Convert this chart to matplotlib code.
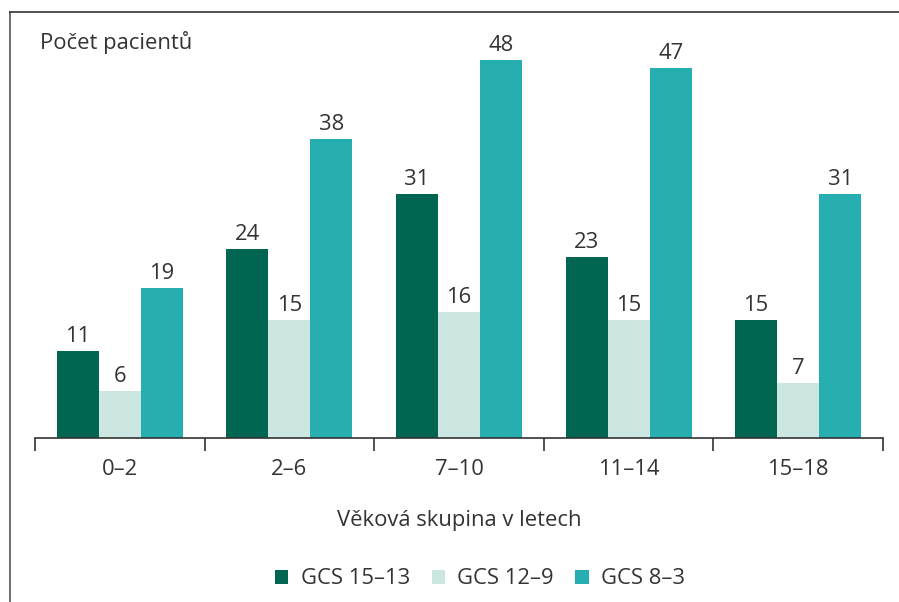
import matplotlib.pyplot as plt
import numpy as np

# data
age_groups = ['0–2', '2–6', '7–10', '11–14', '15–18']
gcs_15_13 = [11, 24, 31, 23, 15]
gcs_12_9 = [6, 15, 16, 15, 7]
gcs_8_3 = [19, 38, 48, 47, 31]
series_names = ['GCS 15–13', 'GCS 12–9', 'GCS 8–3']
colors = ['#006652', '#cce7e1', '#27aeb0']

plt.rcParams['font.family'] = ['Open Sans', 'DejaVu Sans']
text_color = '#333333'
fs = 15.8

fig = plt.figure(figsize=(8.99, 6.02), dpi=100)
ax = fig.add_axes([35 / 899, 1 - 438 / 602, 848 / 899, 409.5 / 602])

x = np.arange(len(age_groups))
width = 0.248
all_series = [gcs_15_13, gcs_12_9, gcs_8_3]
for i, (vals, name, col) in enumerate(zip(all_series, series_names, colors)):
    bars = ax.bar(x + (i - 1) * width, vals, width, color=col, label=name, linewidth=0)
    for b, v in zip(bars, vals):
        ax.annotate(str(v), (b.get_x() + b.get_width() / 2, v), xytext=(0, 3),
                    textcoords='offset points', ha='center', va='bottom',
                    fontsize=fs, color=text_color)

ax.set_xlim(-0.5, len(age_groups) - 0.5)
ax.set_ylim(0, 52)

# only the bottom axis is shown
for side in ['left', 'right', 'top']:
    ax.spines[side].set_visible(False)
ax.spines['bottom'].set_color('#333333')
ax.spines['bottom'].set_linewidth(1.2)
ax.set_yticks([])

# ticks sit between the groups, labels in the middle
ax.set_xticks(np.arange(-0.5, len(age_groups)), minor=False)
ax.set_xticklabels([])
ax.tick_params(axis='x', which='major', direction='out', length=9, width=1.2, color='#333333')
ax.set_xticks(x, minor=True)
ax.set_xticklabels(age_groups, minor=True)
ax.tick_params(axis='x', which='minor', length=0, pad=15, labelsize=fs, labelcolor=text_color)

ax.set_xlabel('Věková skupina v letech', fontsize=fs, color=text_color, labelpad=22)

fig.text(40 / 899, 1 - 42 / 602, 'Počet pacientů', fontsize=fs, color=text_color,
         ha='left', va='center')

# frame line on the left and top of the figure
fig.add_artist(plt.Line2D([10 / 899, 10 / 899], [0, 1 - 12 / 602], transform=fig.transFigure,
                          color='#555555', linewidth=1.2))
fig.add_artist(plt.Line2D([10 / 899, 1], [1 - 12 / 602, 1 - 12 / 602], transform=fig.transFigure,
                          color='#333333', linewidth=1.2))

fig.legend(loc='center', bbox_to_anchor=(480 / 899, 1 - 579 / 602), ncol=3, frameon=False,
           fontsize=fs, handlelength=0.6, handleheight=0.6, handletextpad=0.55,
           columnspacing=1.0, labelcolor=text_color)

fig.savefig('out.png', dpi=100)
